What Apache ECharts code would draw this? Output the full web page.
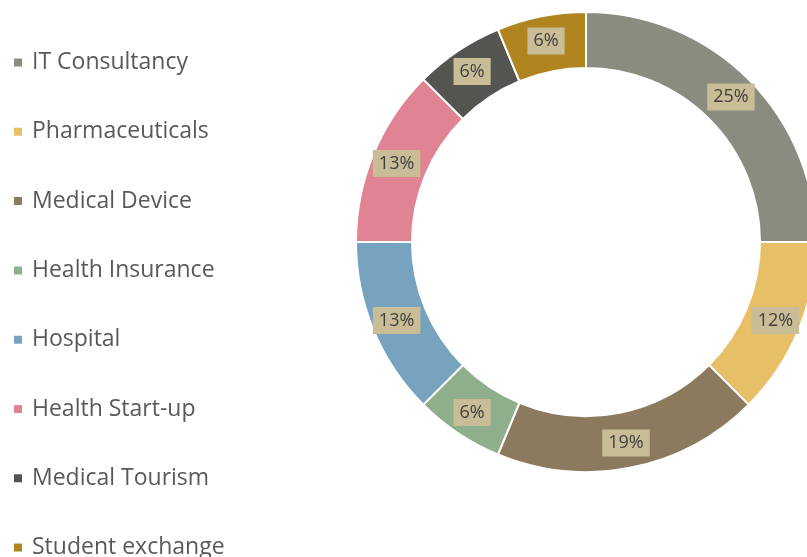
<!DOCTYPE html>
<html>
<head>
<meta charset="utf-8">
<script src="https://cdn.jsdelivr.net/npm/echarts@6/dist/echarts.min.js"></script>
<style>
  html, body { margin: 0; padding: 0; background: #fff; }
  #chart { width: 807px; height: 557px; }
</style>
</head>
<body>
<div id="chart"></div>
<script>
// categories, in clockwise order starting at 12 o'clock
const categories = ['IT Consultancy', 'Pharmaceuticals', 'Medical Device', 'Health Insurance',
  'Hospital', 'Health Start-up', 'Medical Tourism', 'Student exchange'];
// share of each slice
const shares = [25, 12.5, 18.75, 6.25, 12.5, 12.5, 6.25, 6.25];
// percentage labels as printed on the chart
const pctLabels = ['25%', '12%', '19%', '6%', '13%', '13%', '6%', '6%'];
const colors = ['#8c8b80', '#e6bf66', '#8b7a5e', '#8eae8c', '#77a3bf', '#e08392', '#545450', '#b0851f'];

const FONT = '"Open Sans", "Liberation Sans", sans-serif';

const chart = echarts.init(document.getElementById('chart'));

chart.setOption({
  animation: false,
  color: colors,
  legend: {
    orient: 'vertical',
    left: 12,
    top: 51,
    height: 540,
    padding: 0,
    icon: 'rect',
    itemWidth: 10,
    itemHeight: 10,
    itemGap: 46.3,
    textStyle: { fontFamily: FONT, fontSize: 23, color: '#595959', lineHeight: 23, padding: [0, 0, 0, 4] },
    data: categories
  },
  series: [
    {
      type: 'pie',
      center: [586, 242],
      radius: [174, 230],
      startAngle: 90,
      clockwise: true,
      silent: true,
      itemStyle: { borderColor: '#fff', borderWidth: 2 },
      label: {
        show: true,
        position: 'inside',
        formatter: p => pctLabels[p.dataIndex],
        fontFamily: FONT,
        fontSize: 18,
        color: '#404040',
        backgroundColor: '#c8bd96',
        padding: [5, 6, 4, 6]
      },
      labelLine: { show: false },
      data: categories.map((name, i) => ({ name: name, value: shares[i] }))
    }
  ]
});
</script>
</body>
</html>
